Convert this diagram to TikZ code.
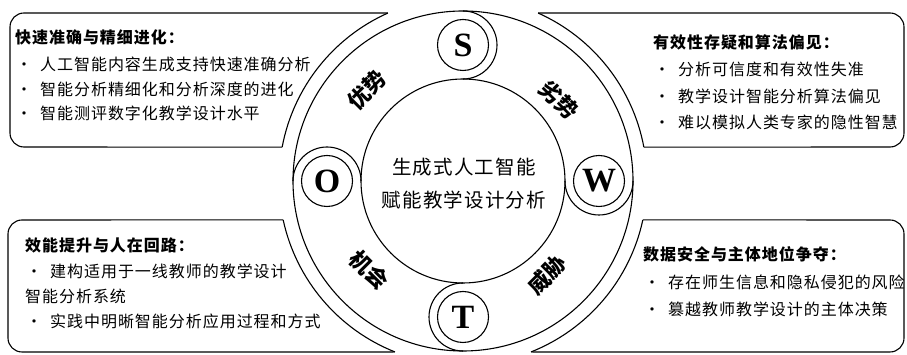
\documentclass[tikz,border=0pt]{standalone}
\usepackage{fontspec}
\setmainfont{Noto Sans CJK SC}
\newfontfamily\boxfont[LetterSpace=6]{Noto Sans CJK SC}
\newfontfamily\letterfont{Liberation Serif}
\usetikzlibrary{calc}
\tikzset{
	ringline/.style={line width=1.1pt},
	swotletter/.style={circle, draw, line width=1.1pt, minimum size=51pt, inner sep=0pt,
		font=\letterfont\bfseries\fontsize{34}{34}\selectfont},
	ringlabel/.style={inner sep=0pt, font=\bfseries\fontsize{22}{22}\selectfont},
	boxtitle/.style={anchor=base west, inner sep=0pt, font=\boxfont\bfseries\fontsize{16}{20}\selectfont},
	boxitem/.style={anchor=base west, inner sep=0pt, font=\boxfont\fontsize{16}{20}\selectfont},
}
\newcommand{\blt}{\makebox[25pt][l]{\hspace{1pt}•}}

\begin{document}
\begin{tikzpicture}[x=1pt,y=1pt]
		\useasboundingbox (0,0) rectangle (907,355);
		\coordinate (ctr) at (463,174);
		\draw[ringline, rounded corners=14pt] ($(ctr)+(114.1:184)$) -- (10,342) -- (10,208) -- ($(ctr)+(169.4:184)$);
		\draw[ringline] ($(ctr)+(169.4:184)$) arc[start angle=169.4, end angle=114.1, radius=184];
		\draw[ringline, rounded corners=14pt] ($(ctr)+(65.9:184)$) -- (904,342) -- (904,208) -- ($(ctr)+(10.6:184)$);
		\draw[ringline] ($(ctr)+(10.6:184)$) arc[start angle=10.6, end angle=65.9, radius=184];
		\draw[ringline, rounded corners=14pt] ($(ctr)+(192.2:184)$) -- (8,135) -- (8,3) -- ($(ctr)+(248.3:184)$);
		\draw[ringline] ($(ctr)+(248.3:184)$) arc[start angle=248.3, end angle=192.2, radius=184];
		\draw[ringline, rounded corners=14pt] ($(ctr)+(-12.2:184)$) -- (904,135) -- (904,3) -- ($(ctr)+(-68.3:184)$);
		\draw[ringline] ($(ctr)+(-68.3:184)$) arc[start angle=-68.3, end angle=-12.2, radius=184];
		\draw[ringline] (ctr) circle[radius=170];
		\draw[ringline] (ctr) circle[radius=102];
		\node[swotletter] (S) at ($(ctr)+(90:136)$) {S};
		\node[swotletter] (W) at ($(ctr)+(0:136)$) {W};
		\node[swotletter] (T) at ($(ctr)+(270:136)$) {T};
		\node[swotletter] (O) at ($(ctr)+(180:136)$) {O};
		\draw[ringline] (S.center) ++(90:34) arc[start angle=90, end angle=-90, radius=34];
		\draw[ringline] (W.center) ++(180:34) arc[start angle=180, end angle=360, radius=34];
		\draw[ringline] (T.center) ++(90:34) arc[start angle=90, end angle=270, radius=34];
		\draw[ringline] (O.center) ++(0:34) arc[start angle=0, end angle=180, radius=34];
		\node[ringlabel, rotate=45] (youshi) at (367,265) {优势};
		\node[ringlabel, rotate=-45] (lieshi) at (559,255) {劣势};
		\node[ringlabel, rotate=45] (weixie) at (547,80) {威胁};
		\node[ringlabel, rotate=-45] (jihui) at (369,85) {机会};
		\node[anchor=base, inner sep=0pt, font=\boxfont\fontsize{19.5}{20}\selectfont] (core1) at (464,180.5) {生成式人工智能};
		\node[anchor=base, inner sep=0pt, font=\boxfont\fontsize{19.5}{20}\selectfont] (core2) at (464,147.5) {赋能教学设计分析};
		\node[boxtitle] (s0) at (15,311) {快速准确与精细进化：};
		\node[boxitem] (s1) at (15,284) {\blt 人工智能内容生成支持快速准确分析};
		\node[boxitem] (s2) at (15,259.5) {\blt 智能分析精细化和分析深度的进化};
		\node[boxitem] (s3) at (15,235) {\blt 智能测评数字化教学设计水平};
		\node[boxtitle] (w0) at (653,306) {有效性存疑和算法偏见：};
		\node[boxitem] (w1) at (653,279) {\blt 分析可信度和有效性失准};
		\node[boxitem] (w2) at (653,252) {\blt 教学设计智能分析算法偏见};
		\node[boxitem] (w3) at (653,226) {\blt 难以模拟人类专家的隐性智慧};
		\node[boxtitle] (o0) at (25,103) {效能提升与人在回路：};
		\node[boxitem] (o1) at (25,77) {\blt 建构适用于一线教师的教学设计};
		\node[boxitem] (o2) at (25,52) {智能分析系统};
		\node[boxitem] (o3) at (25,27) {\blt 实践中明晰智能分析应用过程和方式};
		\node[boxtitle] (t0) at (643,94) {数据安全与主体地位争夺：};
		\node[boxitem] (t1) at (643,66) {\blt 存在师生信息和隐私侵犯的风险};
		\node[boxitem] (t2) at (643,39) {\blt 篡越教师教学设计的主体决策};
\end{tikzpicture}
\end{document}
